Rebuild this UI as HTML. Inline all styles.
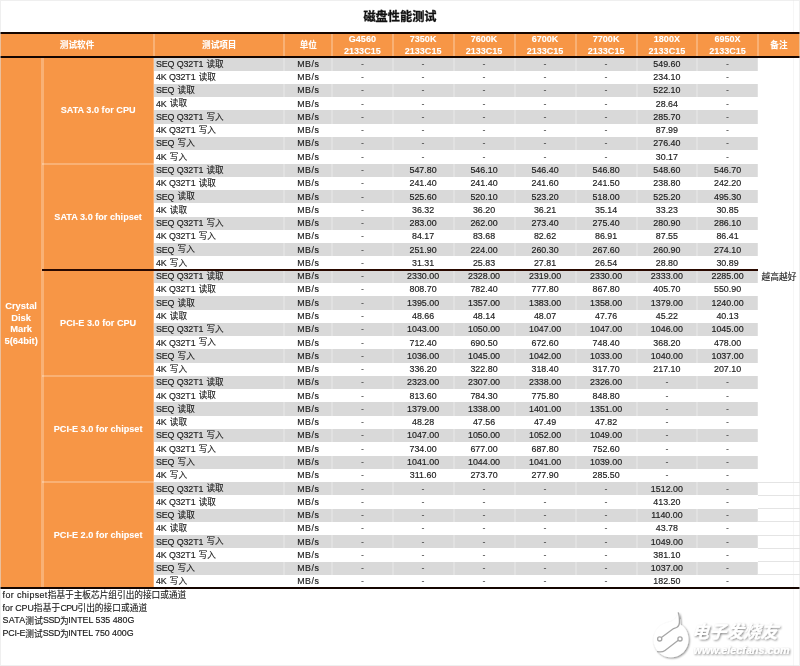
<!DOCTYPE html>
<html lang="zh-CN">
<head>
<meta charset="utf-8">
<title>磁盘性能测试</title>
<style>
html,body{margin:0;padding:0;background:#fff}
body{width:800px;height:666px;overflow:hidden;position:relative;font-family:"Liberation Sans","Noto Sans CJK SC",sans-serif;color:#262626}
#p{position:absolute;left:0;top:0;width:800px;height:666px;overflow:hidden;background:#fff}
#p div,#q{position:absolute;box-sizing:border-box}
.o{background:#F79646}
.g{background:#D9D9D9}
.vw{background:rgba(255,255,255,.22)}
.hv{background:rgba(255,255,255,.26)}
.gl{background:#e4e4e4}
.gl2{background:#f6f6f6}
.k{background:#140500}
.k2{background:#2a0900}
.title{font-family:"Liberation Sans","Noto Sans CJK SC",sans-serif;font-weight:bold;font-size:12.2px;line-height:25px;text-align:center;color:#111;letter-spacing:0;-webkit-text-stroke:0.3px #111}
.t,.h{display:flex;align-items:center;justify-content:center;text-align:center;white-space:nowrap;font-size:8.9px;line-height:1}
.t{padding-top:0.6px;-webkit-text-stroke:0.16px #202020;color:#202020}
.h{padding-top:1.4px;font-size:9.05px}
.c{letter-spacing:0;position:relative;-webkit-text-stroke-width:0.12px}
.t span.c{font-size:8.6px;top:-0.2px}
.it:not(.nt) span.c{margin-left:0.9px}
.nt span.c,.rm span.c{top:0.5px}
.u{letter-spacing:0.5px}
.nt span.c,.rm span.c{font-size:8.7px}
.d{color:#3a3a3a;-webkit-text-stroke-width:0}
.it{justify-content:flex-start;padding-left:1.9px;letter-spacing:-0.12px}
.nt{padding-left:2.6px}
.h{color:#fff;font-weight:bold;line-height:11.6px;text-shadow:0 0 1px rgba(255,255,255,.35)}
.hc{font-size:8.6px}
.crys{line-height:11.7px;font-size:9.4px}
.grp{font-size:9.15px}
.bd{border:1px solid rgba(225,225,225,.55);pointer-events:none}
#q{position:absolute;left:-4px;top:-4px;width:808px;height:674px;filter:blur(0.45px)}
#q>#p{left:4px;top:4px}
</style>
</head>
<body>
<div id="q"><div id="p">
<div class="gl2" style="left:793.3px;top:0px;width:1px;height:666px;"></div>
<div class="o" style="left:0px;top:32.25px;width:800px;height:26.05px;"></div>
<div class="o" style="left:0px;top:57.4px;width:154.1px;height:530.8px;"></div>
<div class="g" style="left:154.1px;top:57.4px;width:603.8px;height:13.27px;"></div>
<div class="g" style="left:154.1px;top:83.94px;width:603.8px;height:13.27px;"></div>
<div class="g" style="left:154.1px;top:110.48px;width:603.8px;height:13.27px;"></div>
<div class="g" style="left:154.1px;top:137.02px;width:603.8px;height:13.27px;"></div>
<div class="g" style="left:154.1px;top:163.56px;width:603.8px;height:13.27px;"></div>
<div class="g" style="left:154.1px;top:190.1px;width:603.8px;height:13.27px;"></div>
<div class="g" style="left:154.1px;top:216.64px;width:603.8px;height:13.27px;"></div>
<div class="g" style="left:154.1px;top:243.18px;width:603.8px;height:13.27px;"></div>
<div class="g" style="left:154.1px;top:269.72px;width:603.8px;height:13.27px;"></div>
<div class="g" style="left:154.1px;top:296.26px;width:603.8px;height:13.27px;"></div>
<div class="g" style="left:154.1px;top:322.8px;width:603.8px;height:13.27px;"></div>
<div class="g" style="left:154.1px;top:349.34px;width:603.8px;height:13.27px;"></div>
<div class="g" style="left:154.1px;top:375.88px;width:603.8px;height:13.27px;"></div>
<div class="g" style="left:154.1px;top:402.42px;width:603.8px;height:13.27px;"></div>
<div class="g" style="left:154.1px;top:428.96px;width:603.8px;height:13.27px;"></div>
<div class="g" style="left:154.1px;top:455.5px;width:603.8px;height:13.27px;"></div>
<div class="g" style="left:154.1px;top:482.04px;width:603.8px;height:13.27px;"></div>
<div class="g" style="left:154.1px;top:508.58px;width:603.8px;height:13.27px;"></div>
<div class="g" style="left:154.1px;top:535.12px;width:603.8px;height:13.27px;"></div>
<div class="g" style="left:154.1px;top:561.66px;width:603.8px;height:13.27px;"></div>
<div class="vw" style="left:283.4px;top:57.4px;width:2px;height:530.8px;"></div>
<div class="vw" style="left:331.1px;top:57.4px;width:2px;height:530.8px;"></div>
<div class="vw" style="left:391.7px;top:57.4px;width:2px;height:530.8px;"></div>
<div class="vw" style="left:452.5px;top:57.4px;width:2px;height:530.8px;"></div>
<div class="vw" style="left:513.5px;top:57.4px;width:2px;height:530.8px;"></div>
<div class="vw" style="left:574.6px;top:57.4px;width:2px;height:530.8px;"></div>
<div class="vw" style="left:635.6px;top:57.4px;width:2px;height:530.8px;"></div>
<div class="vw" style="left:696.2px;top:57.4px;width:2px;height:530.8px;"></div>
<div class="vw" style="left:756.9px;top:57.4px;width:2px;height:530.8px;"></div>
<div class="hv" style="left:153.1px;top:34.25px;width:2px;height:22.2px;"></div>
<div class="hv" style="left:283.4px;top:34.25px;width:2px;height:22.2px;"></div>
<div class="hv" style="left:331.1px;top:34.25px;width:2px;height:22.2px;"></div>
<div class="hv" style="left:391.7px;top:34.25px;width:2px;height:22.2px;"></div>
<div class="hv" style="left:452.5px;top:34.25px;width:2px;height:22.2px;"></div>
<div class="hv" style="left:513.5px;top:34.25px;width:2px;height:22.2px;"></div>
<div class="hv" style="left:574.6px;top:34.25px;width:2px;height:22.2px;"></div>
<div class="hv" style="left:635.6px;top:34.25px;width:2px;height:22.2px;"></div>
<div class="hv" style="left:696.2px;top:34.25px;width:2px;height:22.2px;"></div>
<div class="hv" style="left:756.9px;top:34.25px;width:2px;height:22.2px;"></div>
<div class="hv" style="left:41.4px;top:57.4px;width:2.2px;height:530.8px;"></div>
<div class="hv" style="left:152.9px;top:57.4px;width:1.6px;height:530.8px;"></div>
<div class="hv" style="left:42.2px;top:162.56px;width:111.9px;height:2px;"></div>
<div class="hv" style="left:42.2px;top:374.88px;width:111.9px;height:2px;"></div>
<div class="hv" style="left:42.2px;top:481.04px;width:111.9px;height:2px;"></div>
<div class="gl" style="left:757.9px;top:481.54px;width:42.1px;height:1px;"></div>
<div class="gl" style="left:757.9px;top:494.81px;width:42.1px;height:1px;"></div>
<div class="gl" style="left:757.9px;top:508.08px;width:42.1px;height:1px;"></div>
<div class="gl" style="left:757.9px;top:521.35px;width:42.1px;height:1px;"></div>
<div class="gl" style="left:757.9px;top:534.62px;width:42.1px;height:1px;"></div>
<div class="gl" style="left:757.9px;top:547.89px;width:42.1px;height:1px;"></div>
<div class="gl" style="left:757.9px;top:561.16px;width:42.1px;height:1px;"></div>
<div class="gl" style="left:757.9px;top:574.43px;width:42.1px;height:1px;"></div>
<div class="k" style="left:0px;top:32.25px;width:800px;height:1.85px;"></div>
<div class="k" style="left:0px;top:56.45px;width:800px;height:1.85px;"></div>
<div class="k" style="left:0px;top:587px;width:800px;height:1.9px;"></div>
<div class="k2" style="left:41.6px;top:269.05px;width:716.3px;height:1.9px;"></div>
<div class="title" style="left:0px;top:5.4px;width:800px;height:25px;">磁盘性能测试</div>
<div class="h hc" style="left:0px;top:34.1px;width:154.1px;height:22.35px;"><span>测试软件</span></div>
<div class="h hc" style="left:154.1px;top:34.1px;width:130.3px;height:22.35px;"><span>测试项目</span></div>
<div class="h hc" style="left:284.4px;top:34.1px;width:47.7px;height:22.35px;"><span>单位</span></div>
<div class="h" style="left:332.1px;top:34.1px;width:60.6px;height:22.35px;"><span>G4560<br>2133C15</span></div>
<div class="h" style="left:392.7px;top:34.1px;width:60.8px;height:22.35px;"><span>7350K<br>2133C15</span></div>
<div class="h" style="left:453.5px;top:34.1px;width:61px;height:22.35px;"><span>7600K<br>2133C15</span></div>
<div class="h" style="left:514.5px;top:34.1px;width:61.1px;height:22.35px;"><span>6700K<br>2133C15</span></div>
<div class="h" style="left:575.6px;top:34.1px;width:61px;height:22.35px;"><span>7700K<br>2133C15</span></div>
<div class="h" style="left:636.6px;top:34.1px;width:60.6px;height:22.35px;"><span>1800X<br>2133C15</span></div>
<div class="h" style="left:697.2px;top:34.1px;width:60.7px;height:22.35px;"><span>6950X<br>2133C15</span></div>
<div class="h hc" style="left:757.9px;top:34.1px;width:42.1px;height:22.35px;"><span>备注</span></div>
<div class="h crys" style="left:0px;top:57.4px;width:42.2px;height:530.8px;"><span>Crystal<br>Disk<br>Mark<br>5(64bit)</span></div>
<div class="h grp" style="left:42.2px;top:57.4px;width:111.9px;height:106.16px;"><span>SATA 3.0 for CPU</span></div>
<div class="t it" style="left:154.1px;top:57.4px;width:130.3px;height:13.27px;"><span>SEQ Q32T1 <span class="c">读取</span></span></div>
<div class="t u" style="left:284.4px;top:57.4px;width:47.7px;height:13.27px;"><span>MB/s</span></div>
<div class="t d" style="left:332.1px;top:57.4px;width:60.6px;height:13.27px;"><span>-</span></div>
<div class="t d" style="left:392.7px;top:57.4px;width:60.8px;height:13.27px;"><span>-</span></div>
<div class="t d" style="left:453.5px;top:57.4px;width:61px;height:13.27px;"><span>-</span></div>
<div class="t d" style="left:514.5px;top:57.4px;width:61.1px;height:13.27px;"><span>-</span></div>
<div class="t d" style="left:575.6px;top:57.4px;width:61px;height:13.27px;"><span>-</span></div>
<div class="t" style="left:636.6px;top:57.4px;width:60.6px;height:13.27px;"><span>549.60</span></div>
<div class="t d" style="left:697.2px;top:57.4px;width:60.7px;height:13.27px;"><span>-</span></div>
<div class="t it" style="left:154.1px;top:70.67px;width:130.3px;height:13.27px;"><span>4K Q32T1 <span class="c">读取</span></span></div>
<div class="t u" style="left:284.4px;top:70.67px;width:47.7px;height:13.27px;"><span>MB/s</span></div>
<div class="t d" style="left:332.1px;top:70.67px;width:60.6px;height:13.27px;"><span>-</span></div>
<div class="t d" style="left:392.7px;top:70.67px;width:60.8px;height:13.27px;"><span>-</span></div>
<div class="t d" style="left:453.5px;top:70.67px;width:61px;height:13.27px;"><span>-</span></div>
<div class="t d" style="left:514.5px;top:70.67px;width:61.1px;height:13.27px;"><span>-</span></div>
<div class="t d" style="left:575.6px;top:70.67px;width:61px;height:13.27px;"><span>-</span></div>
<div class="t" style="left:636.6px;top:70.67px;width:60.6px;height:13.27px;"><span>234.10</span></div>
<div class="t d" style="left:697.2px;top:70.67px;width:60.7px;height:13.27px;"><span>-</span></div>
<div class="t it" style="left:154.1px;top:83.94px;width:130.3px;height:13.27px;"><span>SEQ <span class="c">读取</span></span></div>
<div class="t u" style="left:284.4px;top:83.94px;width:47.7px;height:13.27px;"><span>MB/s</span></div>
<div class="t d" style="left:332.1px;top:83.94px;width:60.6px;height:13.27px;"><span>-</span></div>
<div class="t d" style="left:392.7px;top:83.94px;width:60.8px;height:13.27px;"><span>-</span></div>
<div class="t d" style="left:453.5px;top:83.94px;width:61px;height:13.27px;"><span>-</span></div>
<div class="t d" style="left:514.5px;top:83.94px;width:61.1px;height:13.27px;"><span>-</span></div>
<div class="t d" style="left:575.6px;top:83.94px;width:61px;height:13.27px;"><span>-</span></div>
<div class="t" style="left:636.6px;top:83.94px;width:60.6px;height:13.27px;"><span>522.10</span></div>
<div class="t d" style="left:697.2px;top:83.94px;width:60.7px;height:13.27px;"><span>-</span></div>
<div class="t it" style="left:154.1px;top:97.21px;width:130.3px;height:13.27px;"><span>4K <span class="c">读取</span></span></div>
<div class="t u" style="left:284.4px;top:97.21px;width:47.7px;height:13.27px;"><span>MB/s</span></div>
<div class="t d" style="left:332.1px;top:97.21px;width:60.6px;height:13.27px;"><span>-</span></div>
<div class="t d" style="left:392.7px;top:97.21px;width:60.8px;height:13.27px;"><span>-</span></div>
<div class="t d" style="left:453.5px;top:97.21px;width:61px;height:13.27px;"><span>-</span></div>
<div class="t d" style="left:514.5px;top:97.21px;width:61.1px;height:13.27px;"><span>-</span></div>
<div class="t d" style="left:575.6px;top:97.21px;width:61px;height:13.27px;"><span>-</span></div>
<div class="t" style="left:636.6px;top:97.21px;width:60.6px;height:13.27px;"><span>28.64</span></div>
<div class="t d" style="left:697.2px;top:97.21px;width:60.7px;height:13.27px;"><span>-</span></div>
<div class="t it" style="left:154.1px;top:110.48px;width:130.3px;height:13.27px;"><span>SEQ Q32T1 <span class="c">写入</span></span></div>
<div class="t u" style="left:284.4px;top:110.48px;width:47.7px;height:13.27px;"><span>MB/s</span></div>
<div class="t d" style="left:332.1px;top:110.48px;width:60.6px;height:13.27px;"><span>-</span></div>
<div class="t d" style="left:392.7px;top:110.48px;width:60.8px;height:13.27px;"><span>-</span></div>
<div class="t d" style="left:453.5px;top:110.48px;width:61px;height:13.27px;"><span>-</span></div>
<div class="t d" style="left:514.5px;top:110.48px;width:61.1px;height:13.27px;"><span>-</span></div>
<div class="t d" style="left:575.6px;top:110.48px;width:61px;height:13.27px;"><span>-</span></div>
<div class="t" style="left:636.6px;top:110.48px;width:60.6px;height:13.27px;"><span>285.70</span></div>
<div class="t d" style="left:697.2px;top:110.48px;width:60.7px;height:13.27px;"><span>-</span></div>
<div class="t it" style="left:154.1px;top:123.75px;width:130.3px;height:13.27px;"><span>4K Q32T1 <span class="c">写入</span></span></div>
<div class="t u" style="left:284.4px;top:123.75px;width:47.7px;height:13.27px;"><span>MB/s</span></div>
<div class="t d" style="left:332.1px;top:123.75px;width:60.6px;height:13.27px;"><span>-</span></div>
<div class="t d" style="left:392.7px;top:123.75px;width:60.8px;height:13.27px;"><span>-</span></div>
<div class="t d" style="left:453.5px;top:123.75px;width:61px;height:13.27px;"><span>-</span></div>
<div class="t d" style="left:514.5px;top:123.75px;width:61.1px;height:13.27px;"><span>-</span></div>
<div class="t d" style="left:575.6px;top:123.75px;width:61px;height:13.27px;"><span>-</span></div>
<div class="t" style="left:636.6px;top:123.75px;width:60.6px;height:13.27px;"><span>87.99</span></div>
<div class="t d" style="left:697.2px;top:123.75px;width:60.7px;height:13.27px;"><span>-</span></div>
<div class="t it" style="left:154.1px;top:137.02px;width:130.3px;height:13.27px;"><span>SEQ <span class="c">写入</span></span></div>
<div class="t u" style="left:284.4px;top:137.02px;width:47.7px;height:13.27px;"><span>MB/s</span></div>
<div class="t d" style="left:332.1px;top:137.02px;width:60.6px;height:13.27px;"><span>-</span></div>
<div class="t d" style="left:392.7px;top:137.02px;width:60.8px;height:13.27px;"><span>-</span></div>
<div class="t d" style="left:453.5px;top:137.02px;width:61px;height:13.27px;"><span>-</span></div>
<div class="t d" style="left:514.5px;top:137.02px;width:61.1px;height:13.27px;"><span>-</span></div>
<div class="t d" style="left:575.6px;top:137.02px;width:61px;height:13.27px;"><span>-</span></div>
<div class="t" style="left:636.6px;top:137.02px;width:60.6px;height:13.27px;"><span>276.40</span></div>
<div class="t d" style="left:697.2px;top:137.02px;width:60.7px;height:13.27px;"><span>-</span></div>
<div class="t it" style="left:154.1px;top:150.29px;width:130.3px;height:13.27px;"><span>4K <span class="c">写入</span></span></div>
<div class="t u" style="left:284.4px;top:150.29px;width:47.7px;height:13.27px;"><span>MB/s</span></div>
<div class="t d" style="left:332.1px;top:150.29px;width:60.6px;height:13.27px;"><span>-</span></div>
<div class="t d" style="left:392.7px;top:150.29px;width:60.8px;height:13.27px;"><span>-</span></div>
<div class="t d" style="left:453.5px;top:150.29px;width:61px;height:13.27px;"><span>-</span></div>
<div class="t d" style="left:514.5px;top:150.29px;width:61.1px;height:13.27px;"><span>-</span></div>
<div class="t d" style="left:575.6px;top:150.29px;width:61px;height:13.27px;"><span>-</span></div>
<div class="t" style="left:636.6px;top:150.29px;width:60.6px;height:13.27px;"><span>30.17</span></div>
<div class="t d" style="left:697.2px;top:150.29px;width:60.7px;height:13.27px;"><span>-</span></div>
<div class="h grp" style="left:42.2px;top:163.56px;width:111.9px;height:106.16px;"><span>SATA 3.0 for chipset</span></div>
<div class="t it" style="left:154.1px;top:163.56px;width:130.3px;height:13.27px;"><span>SEQ Q32T1 <span class="c">读取</span></span></div>
<div class="t u" style="left:284.4px;top:163.56px;width:47.7px;height:13.27px;"><span>MB/s</span></div>
<div class="t d" style="left:332.1px;top:163.56px;width:60.6px;height:13.27px;"><span>-</span></div>
<div class="t" style="left:392.7px;top:163.56px;width:60.8px;height:13.27px;"><span>547.80</span></div>
<div class="t" style="left:453.5px;top:163.56px;width:61px;height:13.27px;"><span>546.10</span></div>
<div class="t" style="left:514.5px;top:163.56px;width:61.1px;height:13.27px;"><span>546.40</span></div>
<div class="t" style="left:575.6px;top:163.56px;width:61px;height:13.27px;"><span>546.80</span></div>
<div class="t" style="left:636.6px;top:163.56px;width:60.6px;height:13.27px;"><span>548.60</span></div>
<div class="t" style="left:697.2px;top:163.56px;width:60.7px;height:13.27px;"><span>546.70</span></div>
<div class="t it" style="left:154.1px;top:176.83px;width:130.3px;height:13.27px;"><span>4K Q32T1 <span class="c">读取</span></span></div>
<div class="t u" style="left:284.4px;top:176.83px;width:47.7px;height:13.27px;"><span>MB/s</span></div>
<div class="t d" style="left:332.1px;top:176.83px;width:60.6px;height:13.27px;"><span>-</span></div>
<div class="t" style="left:392.7px;top:176.83px;width:60.8px;height:13.27px;"><span>241.40</span></div>
<div class="t" style="left:453.5px;top:176.83px;width:61px;height:13.27px;"><span>241.40</span></div>
<div class="t" style="left:514.5px;top:176.83px;width:61.1px;height:13.27px;"><span>241.60</span></div>
<div class="t" style="left:575.6px;top:176.83px;width:61px;height:13.27px;"><span>241.50</span></div>
<div class="t" style="left:636.6px;top:176.83px;width:60.6px;height:13.27px;"><span>238.80</span></div>
<div class="t" style="left:697.2px;top:176.83px;width:60.7px;height:13.27px;"><span>242.20</span></div>
<div class="t it" style="left:154.1px;top:190.1px;width:130.3px;height:13.27px;"><span>SEQ <span class="c">读取</span></span></div>
<div class="t u" style="left:284.4px;top:190.1px;width:47.7px;height:13.27px;"><span>MB/s</span></div>
<div class="t d" style="left:332.1px;top:190.1px;width:60.6px;height:13.27px;"><span>-</span></div>
<div class="t" style="left:392.7px;top:190.1px;width:60.8px;height:13.27px;"><span>525.60</span></div>
<div class="t" style="left:453.5px;top:190.1px;width:61px;height:13.27px;"><span>520.10</span></div>
<div class="t" style="left:514.5px;top:190.1px;width:61.1px;height:13.27px;"><span>523.20</span></div>
<div class="t" style="left:575.6px;top:190.1px;width:61px;height:13.27px;"><span>518.00</span></div>
<div class="t" style="left:636.6px;top:190.1px;width:60.6px;height:13.27px;"><span>525.20</span></div>
<div class="t" style="left:697.2px;top:190.1px;width:60.7px;height:13.27px;"><span>495.30</span></div>
<div class="t it" style="left:154.1px;top:203.37px;width:130.3px;height:13.27px;"><span>4K <span class="c">读取</span></span></div>
<div class="t u" style="left:284.4px;top:203.37px;width:47.7px;height:13.27px;"><span>MB/s</span></div>
<div class="t d" style="left:332.1px;top:203.37px;width:60.6px;height:13.27px;"><span>-</span></div>
<div class="t" style="left:392.7px;top:203.37px;width:60.8px;height:13.27px;"><span>36.32</span></div>
<div class="t" style="left:453.5px;top:203.37px;width:61px;height:13.27px;"><span>36.20</span></div>
<div class="t" style="left:514.5px;top:203.37px;width:61.1px;height:13.27px;"><span>36.21</span></div>
<div class="t" style="left:575.6px;top:203.37px;width:61px;height:13.27px;"><span>35.14</span></div>
<div class="t" style="left:636.6px;top:203.37px;width:60.6px;height:13.27px;"><span>33.23</span></div>
<div class="t" style="left:697.2px;top:203.37px;width:60.7px;height:13.27px;"><span>30.85</span></div>
<div class="t it" style="left:154.1px;top:216.64px;width:130.3px;height:13.27px;"><span>SEQ Q32T1 <span class="c">写入</span></span></div>
<div class="t u" style="left:284.4px;top:216.64px;width:47.7px;height:13.27px;"><span>MB/s</span></div>
<div class="t d" style="left:332.1px;top:216.64px;width:60.6px;height:13.27px;"><span>-</span></div>
<div class="t" style="left:392.7px;top:216.64px;width:60.8px;height:13.27px;"><span>283.00</span></div>
<div class="t" style="left:453.5px;top:216.64px;width:61px;height:13.27px;"><span>262.00</span></div>
<div class="t" style="left:514.5px;top:216.64px;width:61.1px;height:13.27px;"><span>273.40</span></div>
<div class="t" style="left:575.6px;top:216.64px;width:61px;height:13.27px;"><span>275.40</span></div>
<div class="t" style="left:636.6px;top:216.64px;width:60.6px;height:13.27px;"><span>280.90</span></div>
<div class="t" style="left:697.2px;top:216.64px;width:60.7px;height:13.27px;"><span>286.10</span></div>
<div class="t it" style="left:154.1px;top:229.91px;width:130.3px;height:13.27px;"><span>4K Q32T1 <span class="c">写入</span></span></div>
<div class="t u" style="left:284.4px;top:229.91px;width:47.7px;height:13.27px;"><span>MB/s</span></div>
<div class="t d" style="left:332.1px;top:229.91px;width:60.6px;height:13.27px;"><span>-</span></div>
<div class="t" style="left:392.7px;top:229.91px;width:60.8px;height:13.27px;"><span>84.17</span></div>
<div class="t" style="left:453.5px;top:229.91px;width:61px;height:13.27px;"><span>83.68</span></div>
<div class="t" style="left:514.5px;top:229.91px;width:61.1px;height:13.27px;"><span>82.62</span></div>
<div class="t" style="left:575.6px;top:229.91px;width:61px;height:13.27px;"><span>86.91</span></div>
<div class="t" style="left:636.6px;top:229.91px;width:60.6px;height:13.27px;"><span>87.55</span></div>
<div class="t" style="left:697.2px;top:229.91px;width:60.7px;height:13.27px;"><span>86.41</span></div>
<div class="t it" style="left:154.1px;top:243.18px;width:130.3px;height:13.27px;"><span>SEQ <span class="c">写入</span></span></div>
<div class="t u" style="left:284.4px;top:243.18px;width:47.7px;height:13.27px;"><span>MB/s</span></div>
<div class="t d" style="left:332.1px;top:243.18px;width:60.6px;height:13.27px;"><span>-</span></div>
<div class="t" style="left:392.7px;top:243.18px;width:60.8px;height:13.27px;"><span>251.90</span></div>
<div class="t" style="left:453.5px;top:243.18px;width:61px;height:13.27px;"><span>224.00</span></div>
<div class="t" style="left:514.5px;top:243.18px;width:61.1px;height:13.27px;"><span>260.30</span></div>
<div class="t" style="left:575.6px;top:243.18px;width:61px;height:13.27px;"><span>267.60</span></div>
<div class="t" style="left:636.6px;top:243.18px;width:60.6px;height:13.27px;"><span>260.90</span></div>
<div class="t" style="left:697.2px;top:243.18px;width:60.7px;height:13.27px;"><span>274.10</span></div>
<div class="t it" style="left:154.1px;top:256.45px;width:130.3px;height:13.27px;"><span>4K <span class="c">写入</span></span></div>
<div class="t u" style="left:284.4px;top:256.45px;width:47.7px;height:13.27px;"><span>MB/s</span></div>
<div class="t d" style="left:332.1px;top:256.45px;width:60.6px;height:13.27px;"><span>-</span></div>
<div class="t" style="left:392.7px;top:256.45px;width:60.8px;height:13.27px;"><span>31.31</span></div>
<div class="t" style="left:453.5px;top:256.45px;width:61px;height:13.27px;"><span>25.83</span></div>
<div class="t" style="left:514.5px;top:256.45px;width:61.1px;height:13.27px;"><span>27.81</span></div>
<div class="t" style="left:575.6px;top:256.45px;width:61px;height:13.27px;"><span>26.54</span></div>
<div class="t" style="left:636.6px;top:256.45px;width:60.6px;height:13.27px;"><span>28.80</span></div>
<div class="t" style="left:697.2px;top:256.45px;width:60.7px;height:13.27px;"><span>30.89</span></div>
<div class="h grp" style="left:42.2px;top:269.72px;width:111.9px;height:106.16px;"><span>PCI-E 3.0 for CPU</span></div>
<div class="t it" style="left:154.1px;top:269.72px;width:130.3px;height:13.27px;"><span>SEQ Q32T1 <span class="c">读取</span></span></div>
<div class="t u" style="left:284.4px;top:269.72px;width:47.7px;height:13.27px;"><span>MB/s</span></div>
<div class="t d" style="left:332.1px;top:269.72px;width:60.6px;height:13.27px;"><span>-</span></div>
<div class="t" style="left:392.7px;top:269.72px;width:60.8px;height:13.27px;"><span>2330.00</span></div>
<div class="t" style="left:453.5px;top:269.72px;width:61px;height:13.27px;"><span>2328.00</span></div>
<div class="t" style="left:514.5px;top:269.72px;width:61.1px;height:13.27px;"><span>2319.00</span></div>
<div class="t" style="left:575.6px;top:269.72px;width:61px;height:13.27px;"><span>2330.00</span></div>
<div class="t" style="left:636.6px;top:269.72px;width:60.6px;height:13.27px;"><span>2333.00</span></div>
<div class="t" style="left:697.2px;top:269.72px;width:60.7px;height:13.27px;"><span>2285.00</span></div>
<div class="t it" style="left:154.1px;top:282.99px;width:130.3px;height:13.27px;"><span>4K Q32T1 <span class="c">读取</span></span></div>
<div class="t u" style="left:284.4px;top:282.99px;width:47.7px;height:13.27px;"><span>MB/s</span></div>
<div class="t d" style="left:332.1px;top:282.99px;width:60.6px;height:13.27px;"><span>-</span></div>
<div class="t" style="left:392.7px;top:282.99px;width:60.8px;height:13.27px;"><span>808.70</span></div>
<div class="t" style="left:453.5px;top:282.99px;width:61px;height:13.27px;"><span>782.40</span></div>
<div class="t" style="left:514.5px;top:282.99px;width:61.1px;height:13.27px;"><span>777.80</span></div>
<div class="t" style="left:575.6px;top:282.99px;width:61px;height:13.27px;"><span>867.80</span></div>
<div class="t" style="left:636.6px;top:282.99px;width:60.6px;height:13.27px;"><span>405.70</span></div>
<div class="t" style="left:697.2px;top:282.99px;width:60.7px;height:13.27px;"><span>550.90</span></div>
<div class="t it" style="left:154.1px;top:296.26px;width:130.3px;height:13.27px;"><span>SEQ <span class="c">读取</span></span></div>
<div class="t u" style="left:284.4px;top:296.26px;width:47.7px;height:13.27px;"><span>MB/s</span></div>
<div class="t d" style="left:332.1px;top:296.26px;width:60.6px;height:13.27px;"><span>-</span></div>
<div class="t" style="left:392.7px;top:296.26px;width:60.8px;height:13.27px;"><span>1395.00</span></div>
<div class="t" style="left:453.5px;top:296.26px;width:61px;height:13.27px;"><span>1357.00</span></div>
<div class="t" style="left:514.5px;top:296.26px;width:61.1px;height:13.27px;"><span>1383.00</span></div>
<div class="t" style="left:575.6px;top:296.26px;width:61px;height:13.27px;"><span>1358.00</span></div>
<div class="t" style="left:636.6px;top:296.26px;width:60.6px;height:13.27px;"><span>1379.00</span></div>
<div class="t" style="left:697.2px;top:296.26px;width:60.7px;height:13.27px;"><span>1240.00</span></div>
<div class="t it" style="left:154.1px;top:309.53px;width:130.3px;height:13.27px;"><span>4K <span class="c">读取</span></span></div>
<div class="t u" style="left:284.4px;top:309.53px;width:47.7px;height:13.27px;"><span>MB/s</span></div>
<div class="t d" style="left:332.1px;top:309.53px;width:60.6px;height:13.27px;"><span>-</span></div>
<div class="t" style="left:392.7px;top:309.53px;width:60.8px;height:13.27px;"><span>48.66</span></div>
<div class="t" style="left:453.5px;top:309.53px;width:61px;height:13.27px;"><span>48.14</span></div>
<div class="t" style="left:514.5px;top:309.53px;width:61.1px;height:13.27px;"><span>48.07</span></div>
<div class="t" style="left:575.6px;top:309.53px;width:61px;height:13.27px;"><span>47.76</span></div>
<div class="t" style="left:636.6px;top:309.53px;width:60.6px;height:13.27px;"><span>45.22</span></div>
<div class="t" style="left:697.2px;top:309.53px;width:60.7px;height:13.27px;"><span>40.13</span></div>
<div class="t it" style="left:154.1px;top:322.8px;width:130.3px;height:13.27px;"><span>SEQ Q32T1 <span class="c">写入</span></span></div>
<div class="t u" style="left:284.4px;top:322.8px;width:47.7px;height:13.27px;"><span>MB/s</span></div>
<div class="t d" style="left:332.1px;top:322.8px;width:60.6px;height:13.27px;"><span>-</span></div>
<div class="t" style="left:392.7px;top:322.8px;width:60.8px;height:13.27px;"><span>1043.00</span></div>
<div class="t" style="left:453.5px;top:322.8px;width:61px;height:13.27px;"><span>1050.00</span></div>
<div class="t" style="left:514.5px;top:322.8px;width:61.1px;height:13.27px;"><span>1047.00</span></div>
<div class="t" style="left:575.6px;top:322.8px;width:61px;height:13.27px;"><span>1047.00</span></div>
<div class="t" style="left:636.6px;top:322.8px;width:60.6px;height:13.27px;"><span>1046.00</span></div>
<div class="t" style="left:697.2px;top:322.8px;width:60.7px;height:13.27px;"><span>1045.00</span></div>
<div class="t it" style="left:154.1px;top:336.07px;width:130.3px;height:13.27px;"><span>4K Q32T1 <span class="c">写入</span></span></div>
<div class="t u" style="left:284.4px;top:336.07px;width:47.7px;height:13.27px;"><span>MB/s</span></div>
<div class="t d" style="left:332.1px;top:336.07px;width:60.6px;height:13.27px;"><span>-</span></div>
<div class="t" style="left:392.7px;top:336.07px;width:60.8px;height:13.27px;"><span>712.40</span></div>
<div class="t" style="left:453.5px;top:336.07px;width:61px;height:13.27px;"><span>690.50</span></div>
<div class="t" style="left:514.5px;top:336.07px;width:61.1px;height:13.27px;"><span>672.60</span></div>
<div class="t" style="left:575.6px;top:336.07px;width:61px;height:13.27px;"><span>748.40</span></div>
<div class="t" style="left:636.6px;top:336.07px;width:60.6px;height:13.27px;"><span>368.20</span></div>
<div class="t" style="left:697.2px;top:336.07px;width:60.7px;height:13.27px;"><span>478.00</span></div>
<div class="t it" style="left:154.1px;top:349.34px;width:130.3px;height:13.27px;"><span>SEQ <span class="c">写入</span></span></div>
<div class="t u" style="left:284.4px;top:349.34px;width:47.7px;height:13.27px;"><span>MB/s</span></div>
<div class="t d" style="left:332.1px;top:349.34px;width:60.6px;height:13.27px;"><span>-</span></div>
<div class="t" style="left:392.7px;top:349.34px;width:60.8px;height:13.27px;"><span>1036.00</span></div>
<div class="t" style="left:453.5px;top:349.34px;width:61px;height:13.27px;"><span>1045.00</span></div>
<div class="t" style="left:514.5px;top:349.34px;width:61.1px;height:13.27px;"><span>1042.00</span></div>
<div class="t" style="left:575.6px;top:349.34px;width:61px;height:13.27px;"><span>1033.00</span></div>
<div class="t" style="left:636.6px;top:349.34px;width:60.6px;height:13.27px;"><span>1040.00</span></div>
<div class="t" style="left:697.2px;top:349.34px;width:60.7px;height:13.27px;"><span>1037.00</span></div>
<div class="t it" style="left:154.1px;top:362.61px;width:130.3px;height:13.27px;"><span>4K <span class="c">写入</span></span></div>
<div class="t u" style="left:284.4px;top:362.61px;width:47.7px;height:13.27px;"><span>MB/s</span></div>
<div class="t d" style="left:332.1px;top:362.61px;width:60.6px;height:13.27px;"><span>-</span></div>
<div class="t" style="left:392.7px;top:362.61px;width:60.8px;height:13.27px;"><span>336.20</span></div>
<div class="t" style="left:453.5px;top:362.61px;width:61px;height:13.27px;"><span>322.80</span></div>
<div class="t" style="left:514.5px;top:362.61px;width:61.1px;height:13.27px;"><span>318.40</span></div>
<div class="t" style="left:575.6px;top:362.61px;width:61px;height:13.27px;"><span>317.70</span></div>
<div class="t" style="left:636.6px;top:362.61px;width:60.6px;height:13.27px;"><span>217.10</span></div>
<div class="t" style="left:697.2px;top:362.61px;width:60.7px;height:13.27px;"><span>207.10</span></div>
<div class="h grp" style="left:42.2px;top:375.88px;width:111.9px;height:106.16px;"><span>PCI-E 3.0 for chipset</span></div>
<div class="t it" style="left:154.1px;top:375.88px;width:130.3px;height:13.27px;"><span>SEQ Q32T1 <span class="c">读取</span></span></div>
<div class="t u" style="left:284.4px;top:375.88px;width:47.7px;height:13.27px;"><span>MB/s</span></div>
<div class="t d" style="left:332.1px;top:375.88px;width:60.6px;height:13.27px;"><span>-</span></div>
<div class="t" style="left:392.7px;top:375.88px;width:60.8px;height:13.27px;"><span>2323.00</span></div>
<div class="t" style="left:453.5px;top:375.88px;width:61px;height:13.27px;"><span>2307.00</span></div>
<div class="t" style="left:514.5px;top:375.88px;width:61.1px;height:13.27px;"><span>2338.00</span></div>
<div class="t" style="left:575.6px;top:375.88px;width:61px;height:13.27px;"><span>2326.00</span></div>
<div class="t d" style="left:636.6px;top:375.88px;width:60.6px;height:13.27px;"><span>-</span></div>
<div class="t d" style="left:697.2px;top:375.88px;width:60.7px;height:13.27px;"><span>-</span></div>
<div class="t it" style="left:154.1px;top:389.15px;width:130.3px;height:13.27px;"><span>4K Q32T1 <span class="c">读取</span></span></div>
<div class="t u" style="left:284.4px;top:389.15px;width:47.7px;height:13.27px;"><span>MB/s</span></div>
<div class="t d" style="left:332.1px;top:389.15px;width:60.6px;height:13.27px;"><span>-</span></div>
<div class="t" style="left:392.7px;top:389.15px;width:60.8px;height:13.27px;"><span>813.60</span></div>
<div class="t" style="left:453.5px;top:389.15px;width:61px;height:13.27px;"><span>784.30</span></div>
<div class="t" style="left:514.5px;top:389.15px;width:61.1px;height:13.27px;"><span>775.80</span></div>
<div class="t" style="left:575.6px;top:389.15px;width:61px;height:13.27px;"><span>848.80</span></div>
<div class="t d" style="left:636.6px;top:389.15px;width:60.6px;height:13.27px;"><span>-</span></div>
<div class="t d" style="left:697.2px;top:389.15px;width:60.7px;height:13.27px;"><span>-</span></div>
<div class="t it" style="left:154.1px;top:402.42px;width:130.3px;height:13.27px;"><span>SEQ <span class="c">读取</span></span></div>
<div class="t u" style="left:284.4px;top:402.42px;width:47.7px;height:13.27px;"><span>MB/s</span></div>
<div class="t d" style="left:332.1px;top:402.42px;width:60.6px;height:13.27px;"><span>-</span></div>
<div class="t" style="left:392.7px;top:402.42px;width:60.8px;height:13.27px;"><span>1379.00</span></div>
<div class="t" style="left:453.5px;top:402.42px;width:61px;height:13.27px;"><span>1338.00</span></div>
<div class="t" style="left:514.5px;top:402.42px;width:61.1px;height:13.27px;"><span>1401.00</span></div>
<div class="t" style="left:575.6px;top:402.42px;width:61px;height:13.27px;"><span>1351.00</span></div>
<div class="t d" style="left:636.6px;top:402.42px;width:60.6px;height:13.27px;"><span>-</span></div>
<div class="t d" style="left:697.2px;top:402.42px;width:60.7px;height:13.27px;"><span>-</span></div>
<div class="t it" style="left:154.1px;top:415.69px;width:130.3px;height:13.27px;"><span>4K <span class="c">读取</span></span></div>
<div class="t u" style="left:284.4px;top:415.69px;width:47.7px;height:13.27px;"><span>MB/s</span></div>
<div class="t d" style="left:332.1px;top:415.69px;width:60.6px;height:13.27px;"><span>-</span></div>
<div class="t" style="left:392.7px;top:415.69px;width:60.8px;height:13.27px;"><span>48.28</span></div>
<div class="t" style="left:453.5px;top:415.69px;width:61px;height:13.27px;"><span>47.56</span></div>
<div class="t" style="left:514.5px;top:415.69px;width:61.1px;height:13.27px;"><span>47.49</span></div>
<div class="t" style="left:575.6px;top:415.69px;width:61px;height:13.27px;"><span>47.82</span></div>
<div class="t d" style="left:636.6px;top:415.69px;width:60.6px;height:13.27px;"><span>-</span></div>
<div class="t d" style="left:697.2px;top:415.69px;width:60.7px;height:13.27px;"><span>-</span></div>
<div class="t it" style="left:154.1px;top:428.96px;width:130.3px;height:13.27px;"><span>SEQ Q32T1 <span class="c">写入</span></span></div>
<div class="t u" style="left:284.4px;top:428.96px;width:47.7px;height:13.27px;"><span>MB/s</span></div>
<div class="t d" style="left:332.1px;top:428.96px;width:60.6px;height:13.27px;"><span>-</span></div>
<div class="t" style="left:392.7px;top:428.96px;width:60.8px;height:13.27px;"><span>1047.00</span></div>
<div class="t" style="left:453.5px;top:428.96px;width:61px;height:13.27px;"><span>1050.00</span></div>
<div class="t" style="left:514.5px;top:428.96px;width:61.1px;height:13.27px;"><span>1052.00</span></div>
<div class="t" style="left:575.6px;top:428.96px;width:61px;height:13.27px;"><span>1049.00</span></div>
<div class="t d" style="left:636.6px;top:428.96px;width:60.6px;height:13.27px;"><span>-</span></div>
<div class="t d" style="left:697.2px;top:428.96px;width:60.7px;height:13.27px;"><span>-</span></div>
<div class="t it" style="left:154.1px;top:442.23px;width:130.3px;height:13.27px;"><span>4K Q32T1 <span class="c">写入</span></span></div>
<div class="t u" style="left:284.4px;top:442.23px;width:47.7px;height:13.27px;"><span>MB/s</span></div>
<div class="t d" style="left:332.1px;top:442.23px;width:60.6px;height:13.27px;"><span>-</span></div>
<div class="t" style="left:392.7px;top:442.23px;width:60.8px;height:13.27px;"><span>734.00</span></div>
<div class="t" style="left:453.5px;top:442.23px;width:61px;height:13.27px;"><span>677.00</span></div>
<div class="t" style="left:514.5px;top:442.23px;width:61.1px;height:13.27px;"><span>687.80</span></div>
<div class="t" style="left:575.6px;top:442.23px;width:61px;height:13.27px;"><span>752.60</span></div>
<div class="t d" style="left:636.6px;top:442.23px;width:60.6px;height:13.27px;"><span>-</span></div>
<div class="t d" style="left:697.2px;top:442.23px;width:60.7px;height:13.27px;"><span>-</span></div>
<div class="t it" style="left:154.1px;top:455.5px;width:130.3px;height:13.27px;"><span>SEQ <span class="c">写入</span></span></div>
<div class="t u" style="left:284.4px;top:455.5px;width:47.7px;height:13.27px;"><span>MB/s</span></div>
<div class="t d" style="left:332.1px;top:455.5px;width:60.6px;height:13.27px;"><span>-</span></div>
<div class="t" style="left:392.7px;top:455.5px;width:60.8px;height:13.27px;"><span>1041.00</span></div>
<div class="t" style="left:453.5px;top:455.5px;width:61px;height:13.27px;"><span>1044.00</span></div>
<div class="t" style="left:514.5px;top:455.5px;width:61.1px;height:13.27px;"><span>1041.00</span></div>
<div class="t" style="left:575.6px;top:455.5px;width:61px;height:13.27px;"><span>1039.00</span></div>
<div class="t d" style="left:636.6px;top:455.5px;width:60.6px;height:13.27px;"><span>-</span></div>
<div class="t d" style="left:697.2px;top:455.5px;width:60.7px;height:13.27px;"><span>-</span></div>
<div class="t it" style="left:154.1px;top:468.77px;width:130.3px;height:13.27px;"><span>4K <span class="c">写入</span></span></div>
<div class="t u" style="left:284.4px;top:468.77px;width:47.7px;height:13.27px;"><span>MB/s</span></div>
<div class="t d" style="left:332.1px;top:468.77px;width:60.6px;height:13.27px;"><span>-</span></div>
<div class="t" style="left:392.7px;top:468.77px;width:60.8px;height:13.27px;"><span>311.60</span></div>
<div class="t" style="left:453.5px;top:468.77px;width:61px;height:13.27px;"><span>273.70</span></div>
<div class="t" style="left:514.5px;top:468.77px;width:61.1px;height:13.27px;"><span>277.90</span></div>
<div class="t" style="left:575.6px;top:468.77px;width:61px;height:13.27px;"><span>285.50</span></div>
<div class="t d" style="left:636.6px;top:468.77px;width:60.6px;height:13.27px;"><span>-</span></div>
<div class="t d" style="left:697.2px;top:468.77px;width:60.7px;height:13.27px;"><span>-</span></div>
<div class="h grp" style="left:42.2px;top:482.04px;width:111.9px;height:106.16px;"><span>PCI-E 2.0 for chipset</span></div>
<div class="t it" style="left:154.1px;top:482.04px;width:130.3px;height:13.27px;"><span>SEQ Q32T1 <span class="c">读取</span></span></div>
<div class="t u" style="left:284.4px;top:482.04px;width:47.7px;height:13.27px;"><span>MB/s</span></div>
<div class="t d" style="left:332.1px;top:482.04px;width:60.6px;height:13.27px;"><span>-</span></div>
<div class="t d" style="left:392.7px;top:482.04px;width:60.8px;height:13.27px;"><span>-</span></div>
<div class="t d" style="left:453.5px;top:482.04px;width:61px;height:13.27px;"><span>-</span></div>
<div class="t d" style="left:514.5px;top:482.04px;width:61.1px;height:13.27px;"><span>-</span></div>
<div class="t d" style="left:575.6px;top:482.04px;width:61px;height:13.27px;"><span>-</span></div>
<div class="t" style="left:636.6px;top:482.04px;width:60.6px;height:13.27px;"><span>1512.00</span></div>
<div class="t d" style="left:697.2px;top:482.04px;width:60.7px;height:13.27px;"><span>-</span></div>
<div class="t it" style="left:154.1px;top:495.31px;width:130.3px;height:13.27px;"><span>4K Q32T1 <span class="c">读取</span></span></div>
<div class="t u" style="left:284.4px;top:495.31px;width:47.7px;height:13.27px;"><span>MB/s</span></div>
<div class="t d" style="left:332.1px;top:495.31px;width:60.6px;height:13.27px;"><span>-</span></div>
<div class="t d" style="left:392.7px;top:495.31px;width:60.8px;height:13.27px;"><span>-</span></div>
<div class="t d" style="left:453.5px;top:495.31px;width:61px;height:13.27px;"><span>-</span></div>
<div class="t d" style="left:514.5px;top:495.31px;width:61.1px;height:13.27px;"><span>-</span></div>
<div class="t d" style="left:575.6px;top:495.31px;width:61px;height:13.27px;"><span>-</span></div>
<div class="t" style="left:636.6px;top:495.31px;width:60.6px;height:13.27px;"><span>413.20</span></div>
<div class="t d" style="left:697.2px;top:495.31px;width:60.7px;height:13.27px;"><span>-</span></div>
<div class="t it" style="left:154.1px;top:508.58px;width:130.3px;height:13.27px;"><span>SEQ <span class="c">读取</span></span></div>
<div class="t u" style="left:284.4px;top:508.58px;width:47.7px;height:13.27px;"><span>MB/s</span></div>
<div class="t d" style="left:332.1px;top:508.58px;width:60.6px;height:13.27px;"><span>-</span></div>
<div class="t d" style="left:392.7px;top:508.58px;width:60.8px;height:13.27px;"><span>-</span></div>
<div class="t d" style="left:453.5px;top:508.58px;width:61px;height:13.27px;"><span>-</span></div>
<div class="t d" style="left:514.5px;top:508.58px;width:61.1px;height:13.27px;"><span>-</span></div>
<div class="t d" style="left:575.6px;top:508.58px;width:61px;height:13.27px;"><span>-</span></div>
<div class="t" style="left:636.6px;top:508.58px;width:60.6px;height:13.27px;"><span>1140.00</span></div>
<div class="t d" style="left:697.2px;top:508.58px;width:60.7px;height:13.27px;"><span>-</span></div>
<div class="t it" style="left:154.1px;top:521.85px;width:130.3px;height:13.27px;"><span>4K <span class="c">读取</span></span></div>
<div class="t u" style="left:284.4px;top:521.85px;width:47.7px;height:13.27px;"><span>MB/s</span></div>
<div class="t d" style="left:332.1px;top:521.85px;width:60.6px;height:13.27px;"><span>-</span></div>
<div class="t d" style="left:392.7px;top:521.85px;width:60.8px;height:13.27px;"><span>-</span></div>
<div class="t d" style="left:453.5px;top:521.85px;width:61px;height:13.27px;"><span>-</span></div>
<div class="t d" style="left:514.5px;top:521.85px;width:61.1px;height:13.27px;"><span>-</span></div>
<div class="t d" style="left:575.6px;top:521.85px;width:61px;height:13.27px;"><span>-</span></div>
<div class="t" style="left:636.6px;top:521.85px;width:60.6px;height:13.27px;"><span>43.78</span></div>
<div class="t d" style="left:697.2px;top:521.85px;width:60.7px;height:13.27px;"><span>-</span></div>
<div class="t it" style="left:154.1px;top:535.12px;width:130.3px;height:13.27px;"><span>SEQ Q32T1 <span class="c">写入</span></span></div>
<div class="t u" style="left:284.4px;top:535.12px;width:47.7px;height:13.27px;"><span>MB/s</span></div>
<div class="t d" style="left:332.1px;top:535.12px;width:60.6px;height:13.27px;"><span>-</span></div>
<div class="t d" style="left:392.7px;top:535.12px;width:60.8px;height:13.27px;"><span>-</span></div>
<div class="t d" style="left:453.5px;top:535.12px;width:61px;height:13.27px;"><span>-</span></div>
<div class="t d" style="left:514.5px;top:535.12px;width:61.1px;height:13.27px;"><span>-</span></div>
<div class="t d" style="left:575.6px;top:535.12px;width:61px;height:13.27px;"><span>-</span></div>
<div class="t" style="left:636.6px;top:535.12px;width:60.6px;height:13.27px;"><span>1049.00</span></div>
<div class="t d" style="left:697.2px;top:535.12px;width:60.7px;height:13.27px;"><span>-</span></div>
<div class="t it" style="left:154.1px;top:548.39px;width:130.3px;height:13.27px;"><span>4K Q32T1 <span class="c">写入</span></span></div>
<div class="t u" style="left:284.4px;top:548.39px;width:47.7px;height:13.27px;"><span>MB/s</span></div>
<div class="t d" style="left:332.1px;top:548.39px;width:60.6px;height:13.27px;"><span>-</span></div>
<div class="t d" style="left:392.7px;top:548.39px;width:60.8px;height:13.27px;"><span>-</span></div>
<div class="t d" style="left:453.5px;top:548.39px;width:61px;height:13.27px;"><span>-</span></div>
<div class="t d" style="left:514.5px;top:548.39px;width:61.1px;height:13.27px;"><span>-</span></div>
<div class="t d" style="left:575.6px;top:548.39px;width:61px;height:13.27px;"><span>-</span></div>
<div class="t" style="left:636.6px;top:548.39px;width:60.6px;height:13.27px;"><span>381.10</span></div>
<div class="t d" style="left:697.2px;top:548.39px;width:60.7px;height:13.27px;"><span>-</span></div>
<div class="t it" style="left:154.1px;top:561.66px;width:130.3px;height:13.27px;"><span>SEQ <span class="c">写入</span></span></div>
<div class="t u" style="left:284.4px;top:561.66px;width:47.7px;height:13.27px;"><span>MB/s</span></div>
<div class="t d" style="left:332.1px;top:561.66px;width:60.6px;height:13.27px;"><span>-</span></div>
<div class="t d" style="left:392.7px;top:561.66px;width:60.8px;height:13.27px;"><span>-</span></div>
<div class="t d" style="left:453.5px;top:561.66px;width:61px;height:13.27px;"><span>-</span></div>
<div class="t d" style="left:514.5px;top:561.66px;width:61.1px;height:13.27px;"><span>-</span></div>
<div class="t d" style="left:575.6px;top:561.66px;width:61px;height:13.27px;"><span>-</span></div>
<div class="t" style="left:636.6px;top:561.66px;width:60.6px;height:13.27px;"><span>1037.00</span></div>
<div class="t d" style="left:697.2px;top:561.66px;width:60.7px;height:13.27px;"><span>-</span></div>
<div class="t it" style="left:154.1px;top:574.93px;width:130.3px;height:13.27px;"><span>4K <span class="c">写入</span></span></div>
<div class="t u" style="left:284.4px;top:574.93px;width:47.7px;height:13.27px;"><span>MB/s</span></div>
<div class="t d" style="left:332.1px;top:574.93px;width:60.6px;height:13.27px;"><span>-</span></div>
<div class="t d" style="left:392.7px;top:574.93px;width:60.8px;height:13.27px;"><span>-</span></div>
<div class="t d" style="left:453.5px;top:574.93px;width:61px;height:13.27px;"><span>-</span></div>
<div class="t d" style="left:514.5px;top:574.93px;width:61.1px;height:13.27px;"><span>-</span></div>
<div class="t d" style="left:575.6px;top:574.93px;width:61px;height:13.27px;"><span>-</span></div>
<div class="t" style="left:636.6px;top:574.93px;width:60.6px;height:13.27px;"><span>182.50</span></div>
<div class="t d" style="left:697.2px;top:574.93px;width:60.7px;height:13.27px;"><span>-</span></div>
<div class="t rm" style="left:757.9px;top:269.72px;width:42.1px;height:13.27px;"><span class="c">越高越好</span></div>
<div class="t it nt" style="left:0px;top:588.3px;width:500px;height:13.27px;"><span><span class="l" style="letter-spacing:0.38px">for chipset</span><span class="c" style="letter-spacing:-0.03px">指基于主板芯片组引出的接口或通道</span></span></div>
<div class="t it nt" style="left:0px;top:601.15px;width:500px;height:13.27px;"><span><span class="l" style="letter-spacing:-0.05px">for CPU</span><span class="c" style="letter-spacing:0.2px">指基于</span><span class="l" style="letter-spacing:-0.6px">CPU</span><span class="c" style="letter-spacing:0.03px">引出的接口或通道</span></span></div>
<div class="t it nt" style="left:0px;top:614px;width:500px;height:13.27px;"><span><span class="l" style="letter-spacing:0.2px">SATA</span><span class="c" style="letter-spacing:0.2px">测试</span><span class="l" style="letter-spacing:-0.45px">SSD</span><span class="c" style="letter-spacing:-0.3px">为</span><span class="l" style="letter-spacing:-0.02px">INTEL 535 480G</span></span></div>
<div class="t it nt" style="left:0px;top:626.85px;width:500px;height:13.27px;"><span><span class="l" style="letter-spacing:-0.2px">PCI-E</span><span class="c" style="letter-spacing:0.1px">测试</span><span class="l" style="letter-spacing:-0.4px">SSD</span><span class="c" style="letter-spacing:-0.4px">为</span><span class="l" style="letter-spacing:-0.07px">INTEL 750 400G</span></span></div>
<svg class="wm" width="160" height="66" viewBox="640 600 160 66" style="position:absolute;left:640px;top:600px;overflow:visible">
<defs>
<filter id="ds" x="-20%" y="-20%" width="140%" height="140%">
<feGaussianBlur in="SourceAlpha" stdDeviation="0.8" result="b"/>
<feOffset in="b" dx="0.9" dy="0.9" result="o"/>
<feComponentTransfer in="o" result="s"><feFuncA type="linear" slope="0.5"/></feComponentTransfer>
<feMerge><feMergeNode in="s"/><feMergeNode in="SourceGraphic"/></feMerge>
</filter>
</defs>
<g filter="url(#ds)">
<path d="M678.3 612.3 C680 615.4 680.3 619.4 680.3 623.2 C680.3 624.4 681 625 682 625.6 C686.2 628.8 688.5 634 688.5 639.7 C688.5 649.4 680.7 657.2 671 657.2 C661.3 657.2 653.5 649.4 653.5 639.7 C653.5 631.6 659 624.6 666.8 622.7 C671.6 621.6 676.6 620.4 678.3 612.3 Z" fill="#fff"/>
</g>
<g fill="none" stroke="#a6a6a6" stroke-width="1.3" stroke-linecap="round" stroke-linejoin="round">
<path d="M678.3 612.8 C679.5 615.6 679.5 619.4 679.4 622.8 C679.3 625.4 678.4 626.8 676.6 627.5 L673.6 628.6 L661.4 637.6"/>
<path d="M678.3 640.2 L665 650.4 C663.2 651.8 661.4 652.4 657.6 651.7"/>
<circle cx="659.7" cy="638.9" r="2.1" fill="#fff"/>
<circle cx="680" cy="638.9" r="2.1" fill="#fff"/>
</g>
<g filter="url(#ds)" fill="#fff" font-family="'Liberation Sans','Noto Sans CJK SC',sans-serif" font-weight="bold" font-style="italic">
<text x="691.5" y="638.2" font-size="17.4" textLength="86" lengthAdjust="spacingAndGlyphs" transform="translate(691.5 638.2) skewX(-4) translate(-691.5 -638.2)">电子发烧友</text>
<text x="693.6" y="653.9" font-size="10.6" textLength="96" lengthAdjust="spacingAndGlyphs">www.elecfans.com</text>
</g>
</svg>

<div class="bd" style="left:0;top:0;width:800px;height:666px"></div>
</div></div>
</body>
</html>
